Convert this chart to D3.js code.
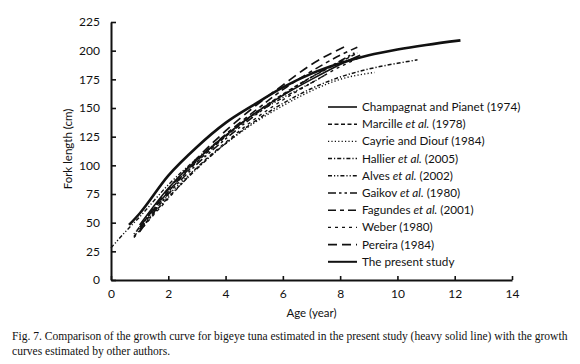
<!DOCTYPE html>
<html>
<head>
<meta charset="utf-8">
<script src="https://cdn.jsdelivr.net/npm/d3@7"></script>
<style>
  html, body { margin: 0; padding: 0; background: #fff; }
  svg { display: block; }
  .tick text { font-family: Lato, "Open Sans", sans-serif; font-size: 12px; fill: #111; }
</style>
</head>
<body>
<div id="chart"></div>
<script>
// growth curves: [age (year), fork length (cm)]
const authors = [
  'Champagnat and Pianet (1974)', 'Marcille et al. (1978)', 'Cayrie and Diouf (1984)',
  'Hallier et al. (2005)', 'Alves et al. (2002)', 'Gaikov et al. (1980)',
  'Fagundes et al. (2001)', 'Weber (1980)', 'Pereira (1984)', 'The present study'
];
const champagnat = [[1, 48], [2, 80], [3, 105], [4, 126], [5, 145], [6, 161], [7, 175], [8, 188], [8.7, 196]];
const marcille = [[0.9, 43], [2, 77], [3, 103], [4, 125], [5, 145], [6, 162], [7, 177], [8, 190], [8.6, 198]];
const cayrie = [[0.8, 40], [2, 74], [3, 98], [4, 119], [5, 137], [6, 152], [7, 165], [8, 175], [9.2, 181]];
const hallier = [[0.8, 38], [2, 72], [3, 97], [4, 119], [5, 138], [6, 154], [7, 167], [8, 177], [9, 184], [10, 189], [10.7, 192]];
const alves = [[0, 28], [0.5, 42], [1, 55], [2, 83], [3, 106], [4, 126], [5, 144], [6, 159], [7, 172], [7.5, 179]];
const gaikov = [[1, 42], [2, 75], [3, 101], [4, 123], [5, 143], [6, 161], [7, 177], [8, 191], [8.5, 198]];
const fagundes = [[1, 44], [2, 77], [3, 104], [4, 127], [5, 147], [6, 166], [7, 182], [8, 196], [8.6, 203]];
const weber = [[0.8, 37], [2, 71], [3, 98], [4, 120], [5, 140], [6, 157], [7, 172], [8, 186], [8.6, 193]];
const pereira = [[1, 46], [2, 79], [3, 106], [4, 130], [5, 151], [6, 170], [7, 188], [8.2, 204]];
const present = [[0.63, 48], [1, 58], [2, 91], [3, 116], [4, 137], [5, 153], [6, 168], [7, 180], [8, 189], [9, 196], [10, 201], [11, 205], [12.2, 209]];

const xTicks = [0, 2, 4, 6, 8, 10, 12, 14];
const yTicks = [0, 25, 50, 75, 100, 125, 150, 175, 200, 225];

const captionLines = [
  'Fig. 7. Comparison of the growth curve for bigeye tuna estimated in the present study (heavy solid line) with the growth',
  'curves estimated by other authors.'
];

const series = [
  { name: authors[0], pts: champagnat, dash: null, w: 1.6 },
  { name: authors[1], pts: marcille, dash: '4,2.5', w: 1.5 },
  { name: authors[2], pts: cayrie, dash: '1.2,2.2', w: 1.4 },
  { name: authors[3], pts: hallier, dash: '4,2,1.2,2', w: 1.5 },
  { name: authors[4], pts: alves, dash: '4,2,1.2,2,1.2,2', w: 1.4 },
  { name: authors[5], pts: gaikov, dash: '8,3,2.5,3,2.5,3', w: 1.6 },
  { name: authors[6], pts: fagundes, dash: '8,4,4,4', w: 1.6 },
  { name: authors[7], pts: weber, dash: '3,4', w: 1.4 },
  { name: authors[8], pts: pereira, dash: '9,5', w: 1.7 },
  { name: authors[9], pts: present, dash: null, w: 2.6 }
];

const W = 580, H = 364;
const margin = { left: 111, top: 22 };
const width = 401, height = 258;

const svg = d3.select('#chart').append('svg').attr('width', W).attr('height', H);
const g = svg.append('g').attr('transform', `translate(${margin.left},${margin.top})`);

const x = d3.scaleLinear().domain([0, 14]).range([0, width]);
const y = d3.scaleLinear().domain([0, 225]).range([height, 0]);

const line = d3.line().x(d => x(d[0])).y(d => y(d[1])).curve(d3.curveMonotoneX);

g.selectAll('path.curve')
  .data(series)
  .join('path')
  .attr('class', 'curve')
  .attr('d', d => line(d.pts))
  .attr('fill', 'none')
  .attr('stroke', '#111')
  .attr('stroke-width', d => d.w)
  .attr('stroke-dasharray', d => d.dash);

const xAxis = g.append('g')
  .attr('transform', `translate(0,${height})`)
  .call(d3.axisBottom(x).tickValues(xTicks).tickSizeInner(-4).tickSizeOuter(0).tickPadding(9));
const yAxis = g.append('g')
  .call(d3.axisLeft(y).tickValues(yTicks).tickSizeInner(-5).tickSizeOuter(0).tickPadding(11));
[xAxis, yAxis].forEach(a => {
  a.select('.domain').attr('stroke', '#111').attr('stroke-width', 2);
  a.selectAll('.tick line').attr('stroke', '#111').attr('stroke-width', 1.6);
});

g.append('text')
  .attr('x', width / 2).attr('y', height + 37)
  .attr('text-anchor', 'middle')
  .attr('font-family', 'Lato, sans-serif').attr('font-size', 11.5).attr('fill', '#111')
  .text('Age (year)');

g.append('text')
  .attr('transform', 'rotate(-90)')
  .attr('x', -(height / 2) + 2).attr('y', -39)
  .attr('text-anchor', 'middle')
  .attr('font-family', 'Lato, sans-serif').attr('font-size', 11.5).attr('fill', '#111')
  .text('Fork length (cm)');

// legend
const leg = svg.append('g').attr('transform', 'translate(328,107)');
const rows = leg.selectAll('g').data(series).join('g')
  .attr('transform', (d, i) => `translate(0,${i * 17.2})`);
rows.append('line')
  .attr('x1', 0).attr('x2', 29).attr('y1', 0).attr('y2', 0)
  .attr('stroke', '#111')
  .attr('stroke-width', d => Math.min(d.w, 2))
  .attr('stroke-dasharray', d => d.dash);
const lt = rows.append('text')
  .attr('x', 34).attr('y', 4)
  .attr('font-family', 'Lato, sans-serif').attr('font-size', 11.7).attr('fill', '#111');
lt.each(function(d) {
  const t = d3.select(this);
  const m = d.name.match(/^(.*?)(et al\.)(.*)$/);
  if (m) {
    t.append('tspan').text(m[1]);
    t.append('tspan').attr('font-style', 'italic').text(m[2]);
    t.append('tspan').text(m[3]);
  } else {
    t.text(d.name);
  }
});

svg.append('g').selectAll('text').data(captionLines).join('text')
  .attr('x', 12).attr('y', (d, i) => 340 + i * 15)
  .attr('font-family', '"Liberation Serif", "Times New Roman", serif')
  .attr('font-size', 11.55).attr('fill', '#111')
  .text(d => d);
</script>
</body>
</html>
